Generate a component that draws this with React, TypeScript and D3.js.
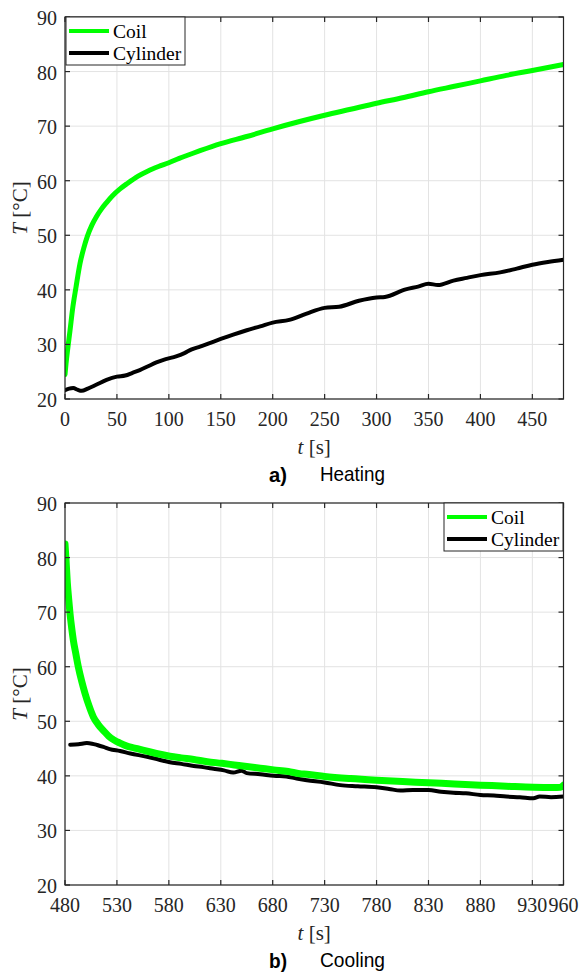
import React from 'react';
import * as d3 from 'd3';

type P = [number, number];

const yTicks = [20, 30, 40, 50, 60, 70, 80, 90];
const heatTicks = [0, 50, 100, 150, 200, 250, 300, 350, 400, 450];
const coolTicks = [480, 530, 580, 630, 680, 730, 780, 830, 880, 930, 960];
const seriesNames = ['Coil', 'Cylinder'];
const panelTags = ['a)', 'b)'];
const panelNames = ['Heating', 'Cooling'];

const heatCoil: P[] = [
  [0, 24.5], [1, 26.5], [2.5, 29], [4.8, 32.5], [7.3, 36.5], [10.6, 40.5], [14.4, 44.8],
  [18, 47.6], [21.5, 49.8], [26, 51.9], [30.5, 53.5], [35, 54.8], [40, 56], [46, 57.3],
  [53, 58.5], [60, 59.5], [70, 60.8], [80, 61.8], [90, 62.6], [100, 63.3], [110, 64.1],
  [120, 64.8], [130, 65.5], [150, 66.8], [175, 68.1], [200, 69.5], [225, 70.8],
  [250, 72.0], [275, 73.1], [300, 74.2], [325, 75.2], [350, 76.3], [375, 77.3],
  [400, 78.3], [425, 79.3], [450, 80.2], [480, 81.3],
];

const heatCyl: P[] = [
  [0, 21.6], [4, 21.9], [8, 22.0], [12, 21.7], [16, 21.5], [22, 21.9], [30, 22.6],
  [40, 23.5], [50, 24.1], [58, 24.3], [65, 24.8], [72, 25.3], [80, 26.0], [88, 26.7],
  [97, 27.3], [107, 27.8], [115, 28.4], [122, 29.1], [130, 29.6], [140, 30.3],
  [150, 31.0], [162, 31.8], [175, 32.6], [188, 33.3], [200, 34.0], [216, 34.5],
  [232, 35.6], [250, 36.7], [264, 36.9], [283, 38.0], [300, 38.6], [308, 38.7],
  [328, 40.1], [340, 40.6], [350, 41.1], [359, 40.9], [374, 41.7], [387, 42.2],
  [400, 42.7], [419, 43.2], [435, 43.9], [450, 44.6], [465, 45.1], [480, 45.5],
];

const coolCoil: P[] = [
  [480, 82.5], [481, 79.5], [482.2, 75.5], [483.5, 72.5], [484.8, 69.8], [486.5, 67],
  [488, 64.9], [490.5, 62.3], [492.8, 60], [496, 57.4], [499.3, 55.1], [503, 52.9],
  [507.3, 50.8], [512, 49.4], [517, 48.3], [522, 47.3], [527, 46.6], [533, 46],
  [539, 45.5], [547, 45.1], [555, 44.7], [568, 44.1], [581, 43.6], [592, 43.3],
  [604, 43.0], [617, 42.6], [631, 42.3], [643, 42.0], [655, 41.7], [668, 41.4],
  [681, 41.1], [695, 40.8], [706, 40.4], [713, 40.3], [730, 39.9], [755, 39.5],
  [780, 39.2], [805, 38.95], [830, 38.75], [855, 38.5], [880, 38.3], [905, 38.1],
  [931, 37.9], [950, 37.85], [957, 37.9], [960, 38.3],
];

const coolCyl: P[] = [
  [485, 45.7], [493, 45.8], [501, 46.0], [506, 45.9], [511, 45.65], [517, 45.3],
  [523, 44.9], [533, 44.55], [543, 44.1], [559, 43.5], [570, 43.0], [581, 42.5],
  [592, 42.2], [604, 41.8], [613, 41.6], [623, 41.3], [633, 41.0], [642, 40.6],
  [650, 40.95], [655, 40.5], [668, 40.3], [681, 40.0], [693, 39.9], [703, 39.5],
  [713, 39.2], [730, 38.8], [745, 38.3], [762, 38.1], [780, 37.9], [792, 37.6],
  [803, 37.3], [815, 37.4], [830, 37.4], [842, 37.1], [854, 36.9], [866, 36.8],
  [880, 36.5], [893, 36.4], [905, 36.2], [918, 36.1], [931, 35.9], [937, 36.2],
  [948, 36.1], [960, 36.2],
];

const GREEN = '#00ff00';
const AX = '#262626';
const GRID = '#e3e3e3';
const SERIF = "'Liberation Serif', 'Times New Roman', serif";
const SANS = "'Liberation Sans', Arial, sans-serif";

const L = 65, R = 563.5, PH = 382;

type PanelProps = {
  top: number; domain: [number, number]; ticks: number[]; coil: P[]; cyl: P[];
  legendLeft: number; tag: string; name: string; coilWidth: number; id: string;
};

const serifStyle = { fontFamily: SERIF };
const sansStyle = { fontFamily: SANS };

function Panel({ top, domain, ticks, coil, cyl, legendLeft, tag, name, coilWidth, id }: PanelProps) {
  const x = d3.scaleLinear().domain(domain).range([L, R]);
  const y = d3.scaleLinear().domain([20, 90]).range([top + PH, top]);
  const line = d3.line<P>().x(d => x(d[0])).y(d => y(d[1])).curve(d3.curveMonotoneX);
  const bottom = top + PH;
  const lg = { x: legendLeft, y: top, w: 119, h: 48 };
  return (
    <g>
      <defs>
        <clipPath id={id}>
          <rect x={L} y={top} width={R - L} height={PH} />
        </clipPath>
      </defs>
      <rect x={L} y={top} width={R - L} height={PH} fill="#fff" />
      {ticks.map(t => (
        <line key={'gx' + t} x1={x(t)} x2={x(t)} y1={top} y2={bottom} stroke={GRID} strokeWidth={1} />
      ))}
      {yTicks.map(t => (
        <line key={'gy' + t} x1={L} x2={R} y1={y(t)} y2={y(t)} stroke={GRID} strokeWidth={1} />
      ))}
      <g clipPath={`url(#${id})`}>
        <path d={line(cyl) || ''} fill="none" stroke="#000" strokeWidth={4} strokeLinejoin="round" strokeLinecap="round" />
        <path d={line(coil) || ''} fill="none" stroke={GREEN} strokeWidth={coilWidth} strokeLinejoin="round" strokeLinecap="round" />
      </g>
      <rect x={L} y={top} width={R - L} height={PH} fill="none" stroke={AX} strokeWidth={1.2} />
      {ticks.map(t => (
        <g key={'tx' + t}>
          <line x1={x(t)} x2={x(t)} y1={bottom} y2={bottom - 5} stroke={AX} strokeWidth={1.2} />
          <line x1={x(t)} x2={x(t)} y1={top} y2={top + 5} stroke={AX} strokeWidth={1.2} />
          <text x={x(t)} y={bottom + 27} textAnchor="middle" style={serifStyle} fontSize={20} fill={AX}>{t}</text>
        </g>
      ))}
      {yTicks.map(t => (
        <g key={'ty' + t}>
          <line x1={L} x2={L + 5} y1={y(t)} y2={y(t)} stroke={AX} strokeWidth={1.2} />
          <line x1={R} x2={R - 5} y1={y(t)} y2={y(t)} stroke={AX} strokeWidth={1.2} />
          <text x={57} y={y(t) + 8} textAnchor="end" style={serifStyle} fontSize={20} fill={AX}>{t}</text>
        </g>
      ))}
      <text transform={`translate(27,${top + PH / 2}) rotate(-90)`} textAnchor="middle" style={serifStyle} fontSize={21} fill={AX}>
        <tspan fontStyle="italic">T</tspan> [°C]
      </text>
      <text x={(L + R) / 2} y={bottom + 55} textAnchor="middle" style={serifStyle} fontSize={21} fill={AX}>
        <tspan fontStyle="italic">t</tspan> [s]
      </text>
      <text x={269} y={bottom + 83} style={sansStyle} fontWeight="bold" fontSize={21} textLength={18} lengthAdjust="spacingAndGlyphs" fill="#000">{tag}</text>
      <text x={320} y={bottom + 82} style={sansStyle} fontSize={21} textLength={65} lengthAdjust="spacingAndGlyphs" fill="#000">{name}</text>
      <g>
        <rect x={lg.x} y={lg.y} width={lg.w} height={lg.h} fill="#fff" stroke={AX} strokeWidth={1} />
        <line x1={lg.x + 3} x2={lg.x + 43} y1={lg.y + 14} y2={lg.y + 14} stroke={GREEN} strokeWidth={4} />
        <text x={lg.x + 47} y={lg.y + 20.5} style={serifStyle} fontSize={19.5} fill="#000">{seriesNames[0]}</text>
        <line x1={lg.x + 3} x2={lg.x + 43} y1={lg.y + 36} y2={lg.y + 36} stroke="#000" strokeWidth={4} />
        <text x={lg.x + 47} y={lg.y + 42.5} style={serifStyle} fontSize={19.5} fill="#000">{seriesNames[1]}</text>
      </g>
    </g>
  );
}

export default function App() {
  return (
    <svg width={581} height={976} viewBox="0 0 581 976"
      style={{ position: 'absolute', left: 0, top: 0, background: '#fff' }}>
      <rect x={0} y={0} width={581} height={976} fill="#fff" />
      <Panel top={17} domain={[0, 480]} ticks={heatTicks} coil={heatCoil} cyl={heatCyl}
        legendLeft={66} tag={panelTags[0]} name={panelNames[0]} coilWidth={5} id="clipA" />
      <Panel top={503} domain={[480, 960]} ticks={coolTicks} coil={coolCoil} cyl={coolCyl}
        legendLeft={444} tag={panelTags[1]} name={panelNames[1]} coilWidth={7} id="clipB" />
    </svg>
  );
}
